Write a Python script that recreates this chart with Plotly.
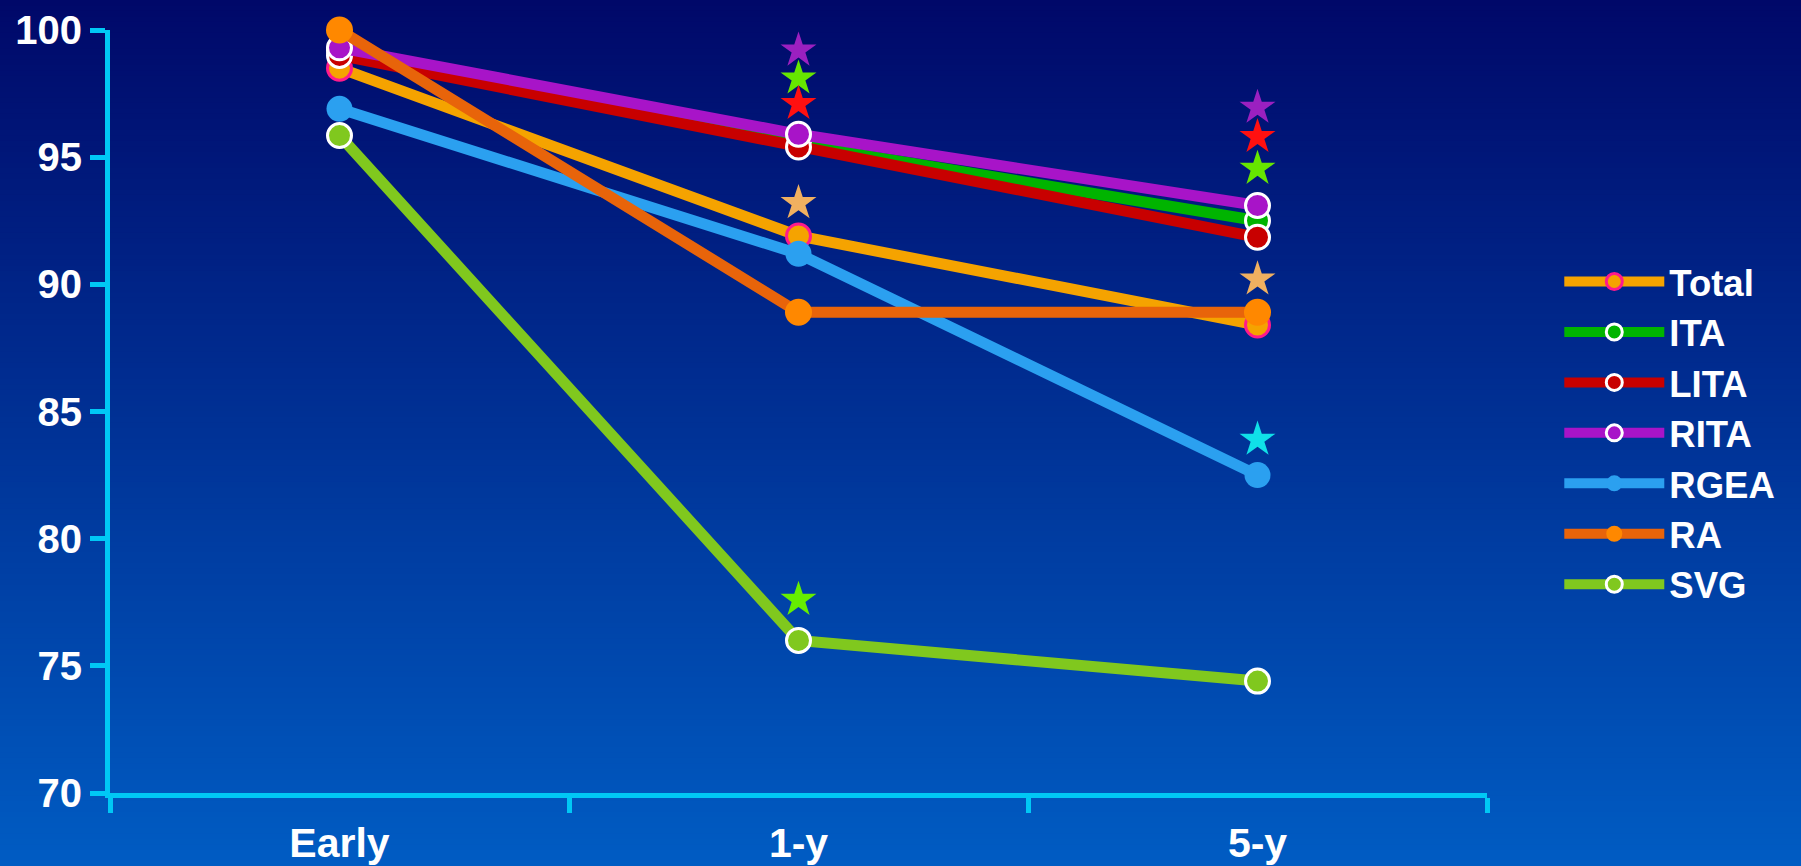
import plotly.graph_objects as go

categories = ["Early", "1-y", "5-y"]
series_names = ["Total", "ITA", "LITA", "RITA", "RGEA", "RA", "SVG"]
total = [98.5, 91.9, 88.4]
ita = [99.2, 95.5, 92.5]
lita = [99.0, 95.4, 91.85]
rita = [99.3, 95.9, 93.1]
rgea = [96.9, 91.2, 82.5]
ra = [100.0, 88.9, 88.9]
svg = [95.85, 76.0, 74.4]

star_x = ["1-y", "1-y", "1-y", "1-y", "1-y", "5-y", "5-y", "5-y", "5-y", "5-y"]
star_y = [99.2, 98.1, 97.1, 93.2, 77.6, 96.95, 95.8, 94.55, 90.2, 83.9]
star_colors = ["#9b20c0", "#66e600", "#ff1010", "#f0b060", "#66ee00",
               "#9b20c0", "#ff1010", "#66e600", "#f0b060", "#10e0e8"]

y_ticks = [70, 75, 80, 85, 90, 95, 100]

W, H = 1801, 866
ML, MR, MT, MB = 110, 314, 30, 73
PH = H - MT - MB

styles = {
    "Total": dict(line="#f5a300", fill="#f5a300", border="#ff1a8c", bw=3, size=24),
    "ITA": dict(line="#00b400", fill="#00b400", border="#ffffff", bw=3, size=24),
    "LITA": dict(line="#c80000", fill="#c80000", border="#ffffff", bw=3, size=24),
    "RITA": dict(line="#a814c8", fill="#a814c8", border="#ffffff", bw=3, size=24),
    "RGEA": dict(line="#2ba0f0", fill="#2ba0f0", border="#2ba0f0", bw=0, size=26),
    "RA": dict(line="#e8640a", fill="#ff8800", border="#ff8800", bw=0, size=27),
    "SVG": dict(line="#80c81e", fill="#80c81e", border="#ffffff", bw=3, size=24),
}
values = {"Total": total, "ITA": ita, "LITA": lita, "RITA": rita,
          "RGEA": rgea, "RA": ra, "SVG": svg}

draw_order = ["SVG", "Total", "RGEA", "ITA", "LITA", "RITA", "RA"]

fig = go.Figure()
for name in draw_order:
    s = styles[name]
    fig.add_trace(go.Scatter(
        x=categories, y=values[name], name=name, mode="lines+markers",
        legendrank=series_names.index(name) + 1,
        line=dict(color=s["line"], width=11),
        marker=dict(size=s["size"], color=s["fill"],
                    line=dict(color=s["border"], width=s["bw"])),
        cliponaxis=False,
    ))

fig.add_trace(go.Scatter(
    x=star_x, y=star_y, mode="markers", showlegend=False, hoverinfo="skip",
    marker=dict(symbol="star", size=27, color=star_colors, line=dict(width=0)),
    cliponaxis=False,
))

# vertical background gradient
top = (0, 8, 105)
bot = (0, 92, 195)
n = 160
shapes = []
for i in range(n):
    p0 = H * i / n
    p1 = H * (i + 1) / n + 1
    if i == 0:
        p0 = -200
    if i == n - 1:
        p1 = H + 200
    t = (i + 0.5) / n
    c = tuple(round(top[k] + (bot[k] - top[k]) * t) for k in range(3))
    shapes.append(dict(
        type="rect", xref="paper", yref="paper", layer="below",
        x0=-0.3, x1=1.4,
        y0=(H - MB - p1) / PH, y1=(H - MB - p0) / PH,
        fillcolor="rgb(%d,%d,%d)" % c, line=dict(width=0),
    ))

axis_color = "#00c8f5"
font_family = "Liberation Sans, Arial, sans-serif"

fig.update_layout(
    width=W, height=H,
    margin=dict(l=ML, r=MR, t=MT, b=MB, autoexpand=False),
    paper_bgcolor="rgb(0,50,150)",
    plot_bgcolor="rgba(0,0,0,0)",
    shapes=shapes,
    font=dict(family=font_family, color="white", size=40, weight="bold"),
    showlegend=True,
    legend=dict(
        x=1.0525, xanchor="left", y=0.71, yanchor="top",
        bgcolor="rgba(0,0,0,0)",
        font=dict(family=font_family, size=36.5, color="white", weight="bold"),
        itemwidth=100,
        traceorder="normal",
    ),
    xaxis=dict(
        type="category", categoryorder="array", categoryarray=categories,
        range=[-0.5, 2.5], tickson="boundaries",
        showline=True, linecolor=axis_color, linewidth=5,
        ticks="outside", ticklen=15, tickwidth=5, tickcolor=axis_color,
        ticklabelstandoff=10, automargin=False,
        showgrid=False, zeroline=False,
        tickfont=dict(family=font_family, size=41, color="white", weight="bold"),
    ),
    yaxis=dict(
        range=[70, 100], tickvals=y_ticks, automargin=False,
        showline=True, linecolor=axis_color, linewidth=5,
        ticks="outside", ticklen=15, tickwidth=5, tickcolor=axis_color,
        showgrid=False, zeroline=False,
        tickfont=dict(family=font_family, size=40, color="white", weight="bold"),
    ),
)

fig.write_html("out.html")
